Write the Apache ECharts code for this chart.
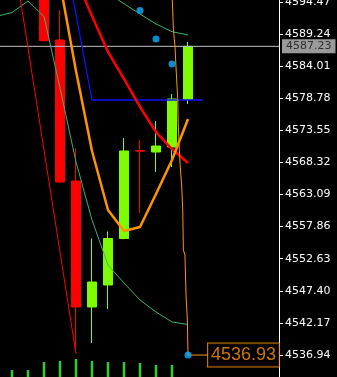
<!DOCTYPE html>
<html><head><meta charset="utf-8">
<script src="https://cdn.jsdelivr.net/npm/echarts@6/dist/echarts.min.js"></script>
<style>html,body{margin:0;padding:0;background:#000}#c{width:337px;height:377px}</style>
</head><body><div id="c"></div>
<script>
// bar index positions (x) and OHLC
const candleX = [3, 4, 5, 6, 7, 8, 9, 10, 11, 12];
const opens  = [4597.80, 4588.26, 4565.29, 4544.76, 4548.35, 4555.92, 4570.25, 4570.01, 4570.83, 4578.60];
const closes = [4588.15, 4565.13, 4544.76, 4548.83, 4555.92, 4570.18, 4570.15, 4570.99, 4578.65, 4587.23];
const lows   = [4588.05, 4564.96, 4537.75, 4538.90, 4544.43, 4555.80, 4560.08, 4566.76, 4567.57, 4577.84];
const highs  = [4598.50, 4593.15, 4570.59, 4555.92, 4557.06, 4572.30, 4571.97, 4575.07, 4579.46, 4587.94];
// tick volumes
const volX = [1, 2, 3, 4, 5, 6, 7, 8, 9, 10, 11];
const volumes = [350, 350, 750, 800, 900, 800, 750, 750, 700, 600, 600];
// indicator lines
const maLowX = [0, 1, 2, 3, 4, 5, 6, 7, 8, 9, 10, 11, 12];
const maLow = [4592.09, 4592.74, 4594.62, 4592.09, 4580.44, 4568.39, 4558.94, 4551.60, 4548.67, 4545.90, 4543.95, 4542.32, 4541.91];
const maHighX = [7, 8, 9, 10, 11, 12];
const maHigh = [4595.92, 4594.15, 4592.50, 4590.87, 4589.62, 4589.08];
const orangeX = [4, 5, 6, 7, 8, 9, 10, 11, 12];
const orangeThick = [4597.55, 4583.21, 4570.18, 4560.56, 4557.14, 4557.80, 4563.17, 4568.71, 4575.39];
const redX = [5, 6, 7, 8, 9, 10, 11, 12];
const redThick = [4598.20, 4592.17, 4586.31, 4581.91, 4577.35, 4573.27, 4570.50, 4568.22];
const blueX = [4.83, 6, 12.94];
const blueY = [4594.78, 4578.49, 4578.49];
const redThinX = [1.53, 5];
const redThinY = [4594.78, 4537.10];
const orangeThinX = [11.02, 11.09, 11.19, 11.25, 11.31, 11.36, 11.39, 11.5, 11.61, 11.67, 11.71, 11.81, 11.88, 11.96, 12];
const orangeThinY = [4594.78, 4589.89, 4587.12, 4583.86, 4580.93, 4578.49, 4574.41, 4568.22, 4564.31, 4560.56, 4554.05, 4553.23, 4546.39, 4542.64, 4536.93];
const sarX = [9, 10, 11, 12];
const sarY = [4593.07, 4588.43, 4584.35, 4536.93];
const bidPrice = 4587.23;
const lastPrice = 4536.93;
const lastLabelX = 13.25;
// axis
const yMin = 4531.71, yMax = 4599.70, yStep = 5.23;
const xMin = 0.25, xMax = 17.6875;

const zip = (xs, ys) => xs.map((x, i) => [x, ys[i]]);
const ORANGE = '#FF9400';
const chart = echarts.init(document.getElementById('c'), null, {renderer: 'canvas'});
chart.setOption({
  backgroundColor: '#000',
  animation: false,
  grid: [
    {left: 0, top: -30.2, width: 279, bottom: -10.1, outerBoundsMode: 'none', containLabel: false},
    {left: 0, top: 357, width: 279, height: 20, outerBoundsMode: 'none', containLabel: false}
  ],
  xAxis: [
    {type: 'value', min: xMin, max: xMax, show: false, gridIndex: 0},
    {type: 'value', min: xMin, max: xMax, show: false, gridIndex: 1}
  ],
  yAxis: [
    {type: 'value', gridIndex: 0, position: 'right', min: yMin, max: yMax, interval: yStep,
     splitLine: {show: false},
     axisLine: {show: true, lineStyle: {color: '#fff', width: 1}},
     axisTick: {show: true, length: 4, lineStyle: {color: '#fff'}},
     axisLabel: {color: '#fff', fontFamily: 'DejaVu Sans', fontSize: 11, margin: 6,
                 formatter: v => v.toFixed(2)}},
    {type: 'value', gridIndex: 1, min: 0, max: 1000, show: false, splitLine: {show: false}}
  ],
  series: [
    {type: 'bar', xAxisIndex: 1, yAxisIndex: 1, barWidth: 2.5,
     itemStyle: {color: '#32CD32'}, data: zip(volX, volumes), z: 1},
    {type: 'candlestick', barWidth: 10, z: 2,
     encode: {x: 0, y: [1, 2, 3, 4]},
     itemStyle: {color: '#7CFC00', color0: '#FF0000', borderColor: '#7CFC00', borderColor0: '#FF0000', borderWidth: 1},
     data: candleX.map((x, i) => [x, opens[i], closes[i], lows[i], highs[i]])},
    {type: 'line', name: 'bid', data: [[xMin, bidPrice], [xMax, bidPrice]], symbol: 'none',
     lineStyle: {color: '#C0C0C0', width: 1}, z: 3},
    {type: 'line', data: zip(maLowX, maLow), symbol: 'none', lineStyle: {color: '#3CB371', width: 1}, z: 4},
    {type: 'line', data: zip(maHighX, maHigh), symbol: 'none', lineStyle: {color: '#3CB371', width: 1}, z: 4},
    {type: 'line', data: zip(redThinX, redThinY), symbol: 'none', lineStyle: {color: '#FF0000', width: 1}, z: 4},
    {type: 'line', data: zip(blueX, blueY), symbol: 'none', lineStyle: {color: '#1010FF', width: 1.3}, z: 4},
    {type: 'line', data: zip(redX, redThick), symbol: 'none', lineStyle: {color: '#FF0000', width: 2.5}, z: 5},
    {type: 'line', data: zip(orangeX, orangeThick), symbol: 'none', lineStyle: {color: ORANGE, width: 2.5}, z: 5},
    {type: 'line', data: zip(orangeThinX, orangeThinY), symbol: 'none', lineStyle: {color: ORANGE, width: 1}, z: 5},
    {type: 'line', data: [[12, lastPrice], [lastLabelX, lastPrice]], symbol: 'none', lineStyle: {color: ORANGE, width: 1}, z: 5},
    {type: 'scatter', data: zip(sarX, sarY), symbolSize: 7, itemStyle: {color: '#10AEFF'}, z: 6},
    {type: 'scatter', clip: false, data: [[xMax, bidPrice]], symbolSize: 0, z: 7,
     label: {show: true, position: 'right', distance: 3, formatter: bidPrice.toFixed(2),
             backgroundColor: '#C0C0C0', color: '#111', fontFamily: 'DejaVu Sans', fontSize: 11,
             lineHeight: 12, padding: [1, 4, 1, 4]}},
    {type: 'scatter', clip: false, data: [[lastLabelX, lastPrice]], symbolSize: 0, z: 7,
     label: {show: true, position: 'right', distance: 0, formatter: lastPrice.toFixed(2),
             backgroundColor: '#000', borderColor: ORANGE, borderWidth: 1, color: ORANGE,
             fontFamily: 'Liberation Sans', fontSize: 18, lineHeight: 18, padding: [3, 3, 2, 3]}}
  ]
});
</script></body></html>
